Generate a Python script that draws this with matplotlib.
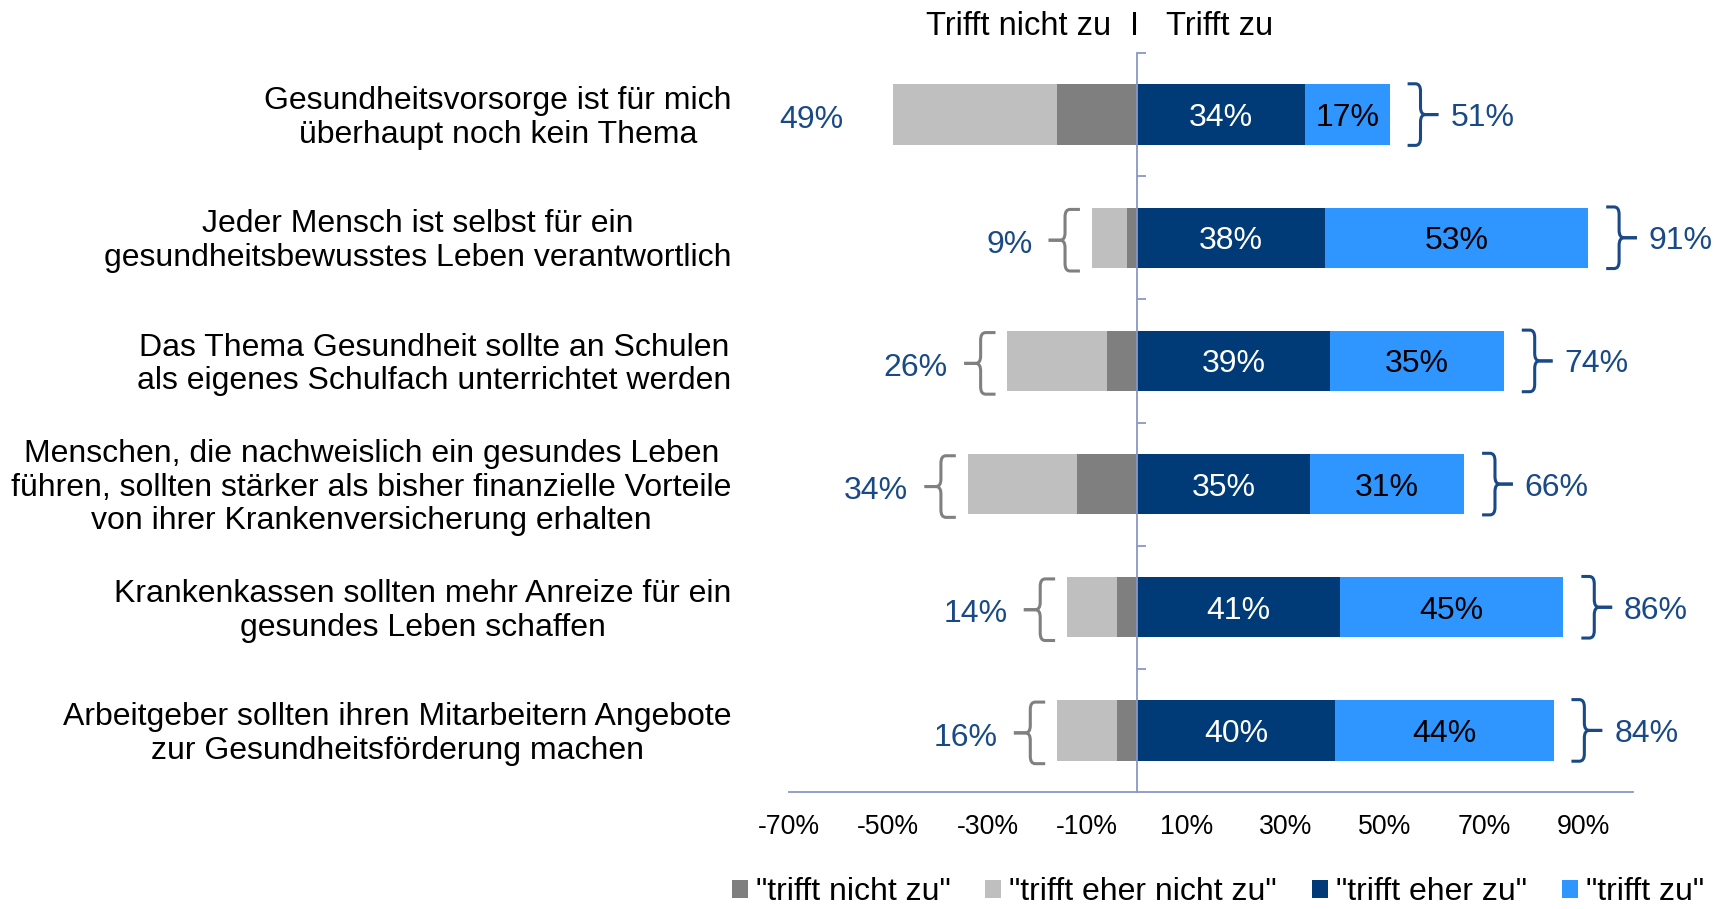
import matplotlib
matplotlib.use("Agg")
import matplotlib.pyplot as plt
from matplotlib.path import Path
from matplotlib.patches import PathPatch
from matplotlib.transforms import blended_transform_factory

plt.rcParams['font.family'] = ['Liberation Sans', 'DejaVu Sans']

categories = [
    "Gesundheitsvorsorge ist für mich\nüberhaupt noch kein Thema",
    "Jeder Mensch ist selbst für ein\ngesundheitsbewusstes Leben verantwortlich",
    "Das Thema Gesundheit sollte an Schulen\nals eigenes Schulfach unterrichtet werden",
    "Menschen, die nachweislich ein gesundes Leben\nführen, sollten stärker als bisher finanzielle Vorteile\nvon ihrer Krankenversicherung erhalten",
    "Krankenkassen sollten mehr Anreize für ein\ngesundes Leben schaffen",
    "Arbeitgeber sollten ihren Mitarbeitern Angebote\nzur Gesundheitsförderung machen",
]
nicht_zu = [16, 2, 6, 12, 4, 4]
eher_nicht_zu = [33, 7, 20, 22, 10, 12]
eher_zu = [34, 38, 39, 35, 41, 40]
zu = [17, 53, 35, 31, 45, 44]
left_brace = [False, True, True, True, True, True]
series_labels = ['"trifft nicht zu"', '"trifft eher nicht zu"', '"trifft eher zu"', '"trifft zu"']
xticks = [-70, -50, -30, -10, 10, 30, 50, 70, 90]

C_DGREY = '#7F7F7F'
C_LGREY = '#BFBFBF'
C_DBLUE = '#003B77'
C_LBLUE = '#3096FF'
C_TXT = '#1A4A86'
C_AX = '#8A97C6'
FS = 23
DY = 0.028  # text baseline nudge (data units, downward)

fig = plt.figure(figsize=(17.3, 9.09), dpi=100)
ax = fig.add_axes([789 / 1730, 1 - 792 / 909, 844 / 1730, (792 - 53) / 909])

y = list(range(len(categories)))
h = 0.49
b1 = ax.barh(y, [-v for v in nicht_zu], height=h, color=C_DGREY, label=series_labels[0], zorder=1)
b2 = ax.barh(y, [-v for v in eher_nicht_zu], left=[-v for v in nicht_zu], height=h,
             color=C_LGREY, label=series_labels[1], zorder=1)
b3 = ax.barh(y, eher_zu, height=h, color=C_DBLUE, label=series_labels[2], zorder=1)
b4 = ax.barh(y, zu, left=eher_zu, height=h, color=C_LBLUE, label=series_labels[3], zorder=1)

ax.set_xlim(-70, 100)
ax.set_ylim(5.5, -0.5)


def brace(xb, yc, hh, d, offs, color):
    x_hook = xb + d * offs[0]
    x_v = xb + d * offs[1]
    x_tip = xb + d * offs[2]
    rx, ry = 1.0, 0.06
    for s in (-1, 1):
        yend = yc + s * hh
        verts = [(x_hook, yend), (x_v - d * rx, yend), (x_v, yend), (x_v, yend - s * ry),
                 (x_v, yc + s * ry), (x_v, yc), (x_v + d * rx, yc), (x_tip, yc)]
        codes = [Path.MOVETO, Path.LINETO, Path.CURVE3, Path.CURVE3,
                 Path.LINETO, Path.CURVE3, Path.CURVE3, Path.LINETO]
        ax.add_patch(PathPatch(Path(verts, codes), fill=False, edgecolor=color,
                               lw=2.2, capstyle='butt', joinstyle='round', clip_on=False))


for i in y:
    neg = nicht_zu[i] + eher_nicht_zu[i]
    pos = eher_zu[i] + zu[i]
    # inside labels
    ax.text(eher_zu[i] / 2, i + DY, f"{eher_zu[i]}%", ha='center', va='center', color='white', fontsize=FS)
    ax.text(eher_zu[i] + zu[i] / 2, i + DY, f"{zu[i]}%", ha='center', va='center', color='black', fontsize=FS)
    # left totals
    if left_brace[i]:
        brace(-neg, i + 0.02, 0.25, -1, (2.4, 5.4, 8.7), '#808080')
        ax.text(-neg - 12, i + 0.03 + DY, f"{neg}%", ha='right', va='center', color=C_TXT, fontsize=FS)
    else:
        ax.text(-neg - 10, i + 0.02 + DY, f"{neg}%", ha='right', va='center', color=C_TXT, fontsize=FS)
    # right totals
    brace(pos, i, 0.25, 1, (3.6, 6.2, 9.8), C_TXT)
    ax.text(pos + 12.2, i + DY, f"{pos}%", ha='left', va='center', color=C_TXT, fontsize=FS)

# category labels
tr = blended_transform_factory(ax.transAxes, ax.transData)
for i, lab in enumerate(categories):
    ax.text(-0.068, i + DY, lab, transform=tr, ha='right', va='center', multialignment='center',
            fontsize=FS, linespacing=1.16)

# axes styling
for s in ('top', 'right'):
    ax.spines[s].set_visible(False)
ax.spines['left'].set_position(('data', 0))
ax.spines['left'].set_color(C_AX)
ax.spines['left'].set_linewidth(1.3)
ax.spines['left'].set_zorder(3)
ax.spines['bottom'].set_color(C_AX)
ax.spines['bottom'].set_linewidth(1.3)

ax.set_yticks([-0.5, 0.5, 1.5, 2.5, 3.5, 4.5])
ax.tick_params(axis='y', direction='in', length=6.5, color=C_AX, width=1.3, labelleft=False)
ax.set_xticks(xticks)
ax.set_xticklabels([f"{t}%" for t in xticks])
ax.tick_params(axis='x', length=0, pad=16, labelsize=19.2)

# header
trh = blended_transform_factory(ax.transData, fig.transFigure)
ax.text(-5.2, 0.9705, "Trifft nicht zu", transform=trh, ha='right', va='center', fontsize=FS + 0.5)
ax.text(-0.4, 0.9705, "I", transform=trh, ha='center', va='center', fontsize=FS + 0.5)
ax.text(6.0, 0.9705, "Trifft zu", transform=trh, ha='left', va='center', fontsize=FS + 0.5)

fig.legend([b1, b2, b3, b4], series_labels, loc='center', bbox_to_anchor=(0.704, 0.0185),
           ncol=4, frameon=False, handlelength=0.5, handleheight=0.5, handletextpad=0.25,
           columnspacing=1.1, fontsize=FS, borderaxespad=0, borderpad=0)

fig.savefig("out.png", dpi=100)
